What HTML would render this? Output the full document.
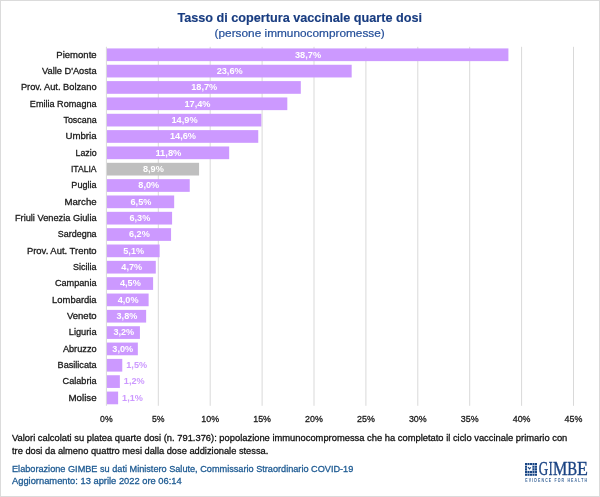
<!DOCTYPE html>
<html lang="it">
<head>
<meta charset="utf-8">
<title>Tasso di copertura vaccinale quarte dosi</title>
<style>
html,body{margin:0;padding:0;background:#fff;}
body{width:600px;height:497px;overflow:hidden;}
svg{display:block;}
text{font-family:'Liberation Sans',Arial,sans-serif;}
.lab{font-size:9.6px;fill:#1a1a1a;stroke:#1a1a1a;stroke-width:0.3px;}
.val{font-size:9.6px;font-weight:bold;fill:#fff;}
.valo{font-size:9.6px;font-weight:bold;fill:#cc99ff;}
.ax{font-size:9.6px;fill:#1a1a1a;stroke:#1a1a1a;stroke-width:0.3px;}
.note{font-size:9.8px;fill:#111;stroke:#111;stroke-width:0.3px;}
.src{font-size:9.8px;fill:#1d5a92;stroke:#1d5a92;stroke-width:0.3px;}
</style>
</head>
<body>
<svg width="600" height="497" viewBox="0 0 600 497">
<rect x="0" y="0" width="600" height="497" fill="#fff"/>
<rect x="0.5" y="0.5" width="599" height="496" fill="none" stroke="#dbdbdb" stroke-width="1"/>
<text x="177.4" y="21.5" font-size="13.4px" font-weight="bold" fill="#183c80" stroke="#183c80" stroke-width="0.15" textLength="244.6" lengthAdjust="spacingAndGlyphs">Tasso di copertura vaccinale quarte dosi</text>
<text x="214.6" y="37" font-size="11.8px" fill="#26509a" stroke="#26509a" stroke-width="0.22" textLength="170.2" lengthAdjust="spacingAndGlyphs">(persone immunocompromesse)</text>
<line x1="106.40" y1="46.8" x2="106.40" y2="405.8" stroke="#d9d9d9" stroke-width="1"/>
<line x1="158.30" y1="46.8" x2="158.30" y2="405.8" stroke="#d9d9d9" stroke-width="1"/>
<line x1="210.20" y1="46.8" x2="210.20" y2="405.8" stroke="#d9d9d9" stroke-width="1"/>
<line x1="262.10" y1="46.8" x2="262.10" y2="405.8" stroke="#d9d9d9" stroke-width="1"/>
<line x1="314.00" y1="46.8" x2="314.00" y2="405.8" stroke="#d9d9d9" stroke-width="1"/>
<line x1="365.90" y1="46.8" x2="365.90" y2="405.8" stroke="#d9d9d9" stroke-width="1"/>
<line x1="417.80" y1="46.8" x2="417.80" y2="405.8" stroke="#d9d9d9" stroke-width="1"/>
<line x1="469.70" y1="46.8" x2="469.70" y2="405.8" stroke="#d9d9d9" stroke-width="1"/>
<line x1="521.60" y1="46.8" x2="521.60" y2="405.8" stroke="#d9d9d9" stroke-width="1"/>
<line x1="573.50" y1="46.8" x2="573.50" y2="405.8" stroke="#d9d9d9" stroke-width="1"/>
<rect x="106.90" y="48.42" width="401.51" height="12.7" fill="#cc99ff"/>
<text class="lab" x="56.35" y="57.52" textLength="40.25" lengthAdjust="spacingAndGlyphs">Piemonte</text>
<text class="val" x="295.01" y="57.52" textLength="26.08" lengthAdjust="spacingAndGlyphs">38,7%</text>
<rect x="106.90" y="64.76" width="244.77" height="12.7" fill="#cc99ff"/>
<text class="lab" x="42.04" y="73.86" textLength="54.56" lengthAdjust="spacingAndGlyphs">Valle D'Aosta</text>
<text class="val" x="216.65" y="73.86" textLength="26.08" lengthAdjust="spacingAndGlyphs">23,6%</text>
<rect x="106.90" y="81.10" width="193.91" height="12.7" fill="#cc99ff"/>
<text class="lab" x="20.91" y="90.20" textLength="75.69" lengthAdjust="spacingAndGlyphs">Prov. Aut. Bolzano</text>
<text class="val" x="191.21" y="90.20" textLength="26.08" lengthAdjust="spacingAndGlyphs">18,7%</text>
<rect x="106.90" y="97.44" width="180.41" height="12.7" fill="#cc99ff"/>
<text class="lab" x="29.82" y="106.54" textLength="66.78" lengthAdjust="spacingAndGlyphs">Emilia Romagna</text>
<text class="val" x="184.47" y="106.54" textLength="26.08" lengthAdjust="spacingAndGlyphs">17,4%</text>
<rect x="106.90" y="113.78" width="154.46" height="12.7" fill="#cc99ff"/>
<text class="lab" x="63.49" y="122.88" textLength="33.11" lengthAdjust="spacingAndGlyphs">Toscana</text>
<text class="val" x="171.49" y="122.88" textLength="26.08" lengthAdjust="spacingAndGlyphs">14,9%</text>
<rect x="106.90" y="130.12" width="151.35" height="12.7" fill="#cc99ff"/>
<text class="lab" x="65.46" y="139.22" textLength="31.14" lengthAdjust="spacingAndGlyphs">Umbria</text>
<text class="val" x="169.94" y="139.22" textLength="26.08" lengthAdjust="spacingAndGlyphs">14,6%</text>
<rect x="106.90" y="146.47" width="122.28" height="12.7" fill="#cc99ff"/>
<text class="lab" x="75.47" y="155.57" textLength="21.13" lengthAdjust="spacingAndGlyphs">Lazio</text>
<text class="val" x="155.40" y="155.57" textLength="26.08" lengthAdjust="spacingAndGlyphs">11,8%</text>
<rect x="106.90" y="162.81" width="92.18" height="12.7" fill="#bfbfbf"/>
<text class="lab" x="70.94" y="171.91" textLength="25.66" lengthAdjust="spacingAndGlyphs">ITALIA</text>
<text class="val" x="142.99" y="171.91" textLength="20.81" lengthAdjust="spacingAndGlyphs">8,9%</text>
<rect x="106.90" y="179.15" width="82.84" height="12.7" fill="#cc99ff"/>
<text class="lab" x="71.36" y="188.25" textLength="25.24" lengthAdjust="spacingAndGlyphs">Puglia</text>
<text class="val" x="138.32" y="188.25" textLength="20.81" lengthAdjust="spacingAndGlyphs">8,0%</text>
<rect x="106.90" y="195.49" width="67.27" height="12.7" fill="#cc99ff"/>
<text class="lab" x="64.53" y="204.59" textLength="32.07" lengthAdjust="spacingAndGlyphs">Marche</text>
<text class="val" x="130.53" y="204.59" textLength="20.81" lengthAdjust="spacingAndGlyphs">6,5%</text>
<rect x="106.90" y="211.83" width="65.19" height="12.7" fill="#cc99ff"/>
<text class="lab" x="14.92" y="220.93" textLength="81.68" lengthAdjust="spacingAndGlyphs">Friuli Venezia Giulia</text>
<text class="val" x="129.49" y="220.93" textLength="20.81" lengthAdjust="spacingAndGlyphs">6,3%</text>
<rect x="106.90" y="228.17" width="64.16" height="12.7" fill="#cc99ff"/>
<text class="lab" x="57.75" y="237.27" textLength="38.85" lengthAdjust="spacingAndGlyphs">Sardegna</text>
<text class="val" x="128.97" y="237.27" textLength="20.81" lengthAdjust="spacingAndGlyphs">6,2%</text>
<rect x="106.90" y="244.51" width="52.74" height="12.7" fill="#cc99ff"/>
<text class="lab" x="26.92" y="253.61" textLength="69.68" lengthAdjust="spacingAndGlyphs">Prov. Aut. Trento</text>
<text class="val" x="123.27" y="253.61" textLength="20.81" lengthAdjust="spacingAndGlyphs">5,1%</text>
<rect x="106.90" y="260.85" width="48.89" height="12.7" fill="#cc99ff"/>
<text class="lab" x="73.12" y="269.95" textLength="23.48" lengthAdjust="spacingAndGlyphs">Sicilia</text>
<text class="val" x="121.34" y="269.95" textLength="20.81" lengthAdjust="spacingAndGlyphs">4,7%</text>
<rect x="106.90" y="277.19" width="46.21" height="12.7" fill="#cc99ff"/>
<text class="lab" x="54.89" y="286.29" textLength="41.71" lengthAdjust="spacingAndGlyphs">Campania</text>
<text class="val" x="120.00" y="286.29" textLength="20.81" lengthAdjust="spacingAndGlyphs">4,5%</text>
<rect x="106.90" y="293.54" width="41.72" height="12.7" fill="#cc99ff"/>
<text class="lab" x="52.11" y="302.64" textLength="44.49" lengthAdjust="spacingAndGlyphs">Lombardia</text>
<text class="val" x="117.76" y="302.64" textLength="20.81" lengthAdjust="spacingAndGlyphs">4,0%</text>
<rect x="106.90" y="309.88" width="39.24" height="12.7" fill="#cc99ff"/>
<text class="lab" x="66.88" y="318.98" textLength="29.72" lengthAdjust="spacingAndGlyphs">Veneto</text>
<text class="val" x="116.52" y="318.98" textLength="20.81" lengthAdjust="spacingAndGlyphs">3,8%</text>
<rect x="106.90" y="326.22" width="33.02" height="12.7" fill="#cc99ff"/>
<text class="lab" x="68.76" y="335.32" textLength="27.84" lengthAdjust="spacingAndGlyphs">Liguria</text>
<text class="val" x="113.40" y="335.32" textLength="20.81" lengthAdjust="spacingAndGlyphs">3,2%</text>
<rect x="106.90" y="342.56" width="30.94" height="12.7" fill="#cc99ff"/>
<text class="lab" x="62.88" y="351.66" textLength="33.72" lengthAdjust="spacingAndGlyphs">Abruzzo</text>
<text class="val" x="112.37" y="351.66" textLength="20.81" lengthAdjust="spacingAndGlyphs">3,0%</text>
<rect x="106.90" y="358.90" width="15.37" height="12.7" fill="#cc99ff"/>
<text class="lab" x="57.58" y="368.00" textLength="39.02" lengthAdjust="spacingAndGlyphs">Basilicata</text>
<text class="valo" x="126.27" y="368.00" textLength="20.81" lengthAdjust="spacingAndGlyphs">1,5%</text>
<rect x="106.90" y="375.24" width="12.96" height="12.7" fill="#cc99ff"/>
<text class="lab" x="62.58" y="384.34" textLength="34.02" lengthAdjust="spacingAndGlyphs">Calabria</text>
<text class="valo" x="123.86" y="384.34" textLength="20.81" lengthAdjust="spacingAndGlyphs">1,2%</text>
<rect x="106.90" y="391.58" width="11.22" height="12.7" fill="#cc99ff"/>
<text class="lab" x="68.48" y="400.68" textLength="28.12" lengthAdjust="spacingAndGlyphs">Molise</text>
<text class="valo" x="122.12" y="400.68" textLength="20.81" lengthAdjust="spacingAndGlyphs">1,1%</text>
<text class="ax" x="100.11" y="422" textLength="12.58" lengthAdjust="spacingAndGlyphs">0%</text>
<text class="ax" x="152.01" y="422" textLength="12.58" lengthAdjust="spacingAndGlyphs">5%</text>
<text class="ax" x="201.30" y="422" textLength="17.80" lengthAdjust="spacingAndGlyphs">10%</text>
<text class="ax" x="253.20" y="422" textLength="17.80" lengthAdjust="spacingAndGlyphs">15%</text>
<text class="ax" x="305.10" y="422" textLength="17.80" lengthAdjust="spacingAndGlyphs">20%</text>
<text class="ax" x="357.00" y="422" textLength="17.80" lengthAdjust="spacingAndGlyphs">25%</text>
<text class="ax" x="408.90" y="422" textLength="17.80" lengthAdjust="spacingAndGlyphs">30%</text>
<text class="ax" x="460.80" y="422" textLength="17.80" lengthAdjust="spacingAndGlyphs">35%</text>
<text class="ax" x="512.70" y="422" textLength="17.80" lengthAdjust="spacingAndGlyphs">40%</text>
<text class="ax" x="564.60" y="422" textLength="17.80" lengthAdjust="spacingAndGlyphs">45%</text>
<text class="note" x="12" y="441.3" textLength="555.3" lengthAdjust="spacingAndGlyphs">Valori calcolati su platea quarte dosi (n. 791.376): popolazione immunocompromessa che ha completato il ciclo vaccinale primario con</text>
<text class="note" x="12" y="453.7" textLength="256.3" lengthAdjust="spacingAndGlyphs">tre dosi da almeno quattro mesi dalla dose addizionale stessa.</text>
<text class="src" x="12" y="471.7" textLength="341.3" lengthAdjust="spacingAndGlyphs">Elaborazione GIMBE su dati Ministero Salute, Commissario Straordinario COVID-19</text>
<text class="src" x="12" y="484" textLength="169.7" lengthAdjust="spacingAndGlyphs">Aggiornamento: 13 aprile 2022 ore 06:14</text>
<g id="logo">
<rect x="525" y="463" width="12" height="12.74" fill="#d3deee"/>
<rect x="527.2" y="465.4" width="4.8" height="5.2" fill="#fff"/>
<path d="M525.00 463.00h2v2.1h-2zM527.50 463.00h2v2.1h-2zM530.00 463.00h2v2.1h-2zM532.50 463.00h2v2.1h-2zM535.00 463.00h2v2.1h-2zM525.00 465.66h2v2.1h-2zM532.50 465.66h2v2.1h-2zM535.00 465.66h2v2.1h-2zM525.00 468.32h2v2.1h-2zM532.50 468.32h2v2.1h-2zM535.00 468.32h2v2.1h-2zM525.00 470.98h2v2.1h-2zM527.50 470.98h2v2.1h-2zM530.00 470.98h2v2.1h-2zM532.50 470.98h2v2.1h-2zM535.00 470.98h2v2.1h-2zM525.00 473.64h2v2.1h-2zM527.50 473.64h2v2.1h-2zM530.00 473.64h2v2.1h-2zM532.50 473.64h2v2.1h-2zM535.00 473.64h2v2.1h-2z" fill="#184583"/>
<path d="M528 467l1.45 1.9 1.35-1.6" fill="none" stroke="#184583" stroke-width="1.15"/>
<text y="475.3" font-size="17.8px" fill="#1a4383" stroke="#1a4383" stroke-width="0.35" style="font-family:'Liberation Serif',serif"><tspan x="538.86" textLength="9.45" lengthAdjust="spacingAndGlyphs">G</tspan><tspan x="548.79" textLength="3.82" lengthAdjust="spacingAndGlyphs">I</tspan><tspan x="552.94" textLength="14.23" lengthAdjust="spacingAndGlyphs">M</tspan><tspan x="567.37" textLength="9.85" lengthAdjust="spacingAndGlyphs">B</tspan><tspan x="577.09" textLength="10.90" lengthAdjust="spacingAndGlyphs">E</tspan></text>
<text transform="translate(525.2,481.7) scale(0.66,1)" font-size="5.3px" font-weight="bold" fill="#3c6699" textLength="93.8" lengthAdjust="spacing">EVIDENCE FOR HEALTH</text>
</g>
</svg>
</body>
</html>
